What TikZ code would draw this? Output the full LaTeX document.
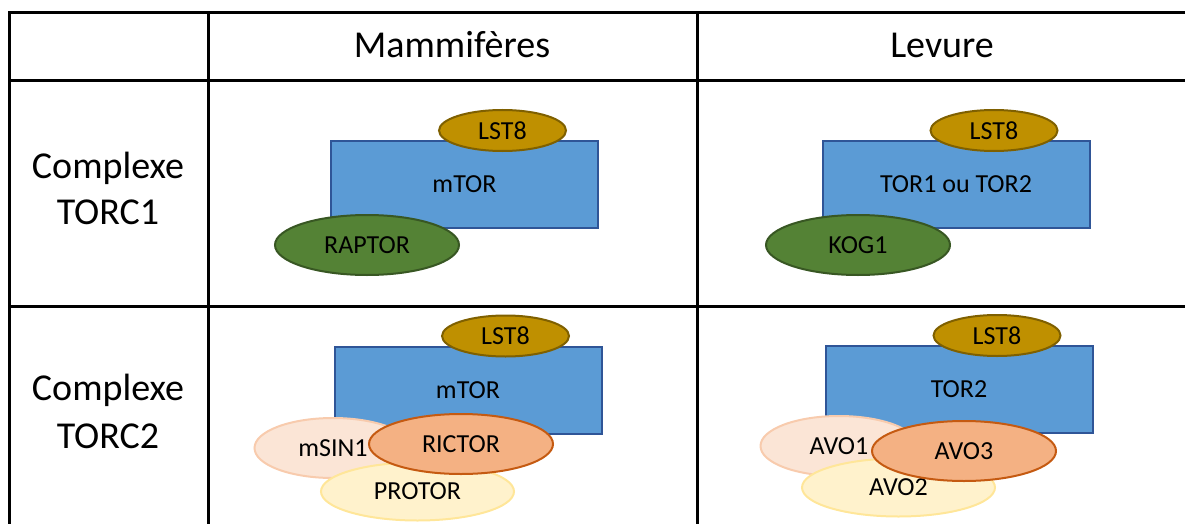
\documentclass[tikz,border=0pt]{standalone}
\usepackage{fontspec}
\setmainfont{Carlito}
\usetikzlibrary{shapes.geometric}

\definecolor{torfill}{HTML}{5B9BD5}
\definecolor{tordraw}{HTML}{2F5597}
\definecolor{lstfill}{HTML}{BF9000}
\definecolor{lstdraw}{HTML}{7F6000}
\definecolor{rapfill}{HTML}{548235}
\definecolor{rapdraw}{HTML}{385723}
\definecolor{sinfill}{HTML}{FBE5D6}
\definecolor{sindraw}{HTML}{F8CBAD}
\definecolor{ricfill}{HTML}{F4B183}
\definecolor{ricdraw}{HTML}{C55A11}
\definecolor{profill}{HTML}{FFF2CC}
\definecolor{prodraw}{HTML}{FFE699}

\newcommand{\bigtxt}{\fontsize{38}{46}\selectfont}
\newcommand{\smalltxt}{\fontsize{26}{31}\selectfont}

\tikzset{
	tabline/.style={line width=3pt, line cap=rect},
	headtxt/.style={anchor=base, font=\bigtxt, inner sep=0pt},
	torbox/.style={rectangle, draw=tordraw, fill=torfill, line width=2pt,
		minimum width=267, minimum height=87, font=\smalltxt},
	prot/.style={ellipse, line width=2pt, inner sep=0pt, font=\smalltxt},
	lst/.style={prot, draw=lstdraw, fill=lstfill, minimum width=127, minimum height=41},
	rap/.style={prot, draw=rapdraw, fill=rapfill, minimum width=184, minimum height=60},
	sin/.style={prot, draw=sindraw, fill=sinfill, minimum width=157, minimum height=60},
	ric/.style={prot, draw=ricdraw, fill=ricfill, minimum width=184, minimum height=60},
	pro/.style={prot, draw=prodraw, fill=profill, minimum width=193, minimum height=58}
}

\begin{document}
\begin{tikzpicture}[x=1pt,y=-1pt]
	\useasboundingbox (0,0) rectangle (1185,524);
	% table
	\foreach \y in {13,81,306}
		\draw[tabline] (9,\y) -- (1185,\y);
	\foreach \x in {9,208,697}
		\draw[tabline] (\x,13) -- (\x,524);

	% headers
	\node[headtxt] (mam) at (452,58) {Mammifères};
	\node[headtxt] (lev) at (942,58) {Levure};
	\node[headtxt] (c1a) at (108,178) {Complexe};
	\node[headtxt] (c1b) at (108,224) {TORC1};
	\node[headtxt] (c2a) at (108,400) {Complexe};
	\node[headtxt] (c2b) at (108,448) {TORC2};

	% TORC1
	\node[torbox] (mtor1) at (464.5,184.5) {mTOR};
	\node[lst] (lstm1) at (502.5,130.5) {LST8};
	\node[rap] (raptor) at (367,245) {RAPTOR};

	\node[torbox] (tor1) at (956,184.5) {TOR1 ou TOR2};
	\node[lst] (lsty1) at (994,130.5) {LST8};
	\node[rap] (kog) at (858,245) {KOG1};

	% TORC2
	\node[torbox] (mtor2) at (468,390) {mTOR};
	\node[lst] (lstm2) at (505.5,336) {LST8};
	\node[sin] (msin) at (333,448) {mSIN1};
	\node[pro] (protor) at (417.5,491.5) {PROTOR};
	\node[ric] (rictor) at (461,444) {RICTOR};

	\node[torbox] (tor2) at (959,389.5) {TOR2};
	\node[lst] (lsty2) at (997,335.5) {LST8};
	\node[sin] (avo1) at (839,446) {AVO1};
	\node[pro] (avo2) at (898.5,487.5) {AVO2};
	\node[ric] (avo3) at (964,451) {AVO3};
\end{tikzpicture}
\end{document}
